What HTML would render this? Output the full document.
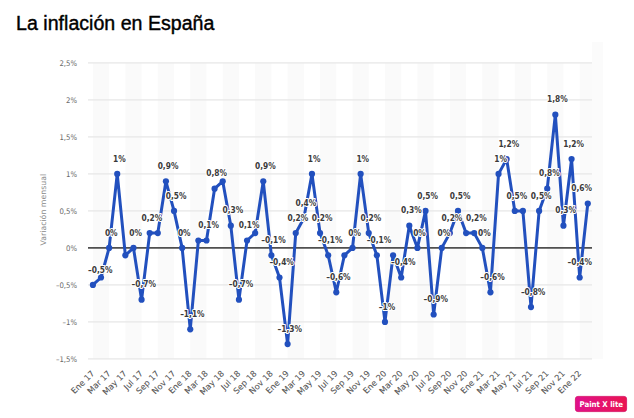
<!DOCTYPE html><html><head><meta charset="utf-8"><style>
html,body{margin:0;padding:0;background:#fff;width:634px;height:418px;overflow:hidden}
svg{display:block}
.t{font-family:"Liberation Sans",Arial,sans-serif}
.yl{font-family:"DejaVu Sans Condensed","DejaVu Sans",sans-serif;font-size:7.7px;fill:#6a6a6a}
.xl{font-family:"DejaVu Sans",sans-serif;font-size:8.3px;fill:#555;stroke:#555;stroke-width:0.08px}
.dl{font-family:"DejaVu Sans Condensed","DejaVu Sans",sans-serif;font-size:8.3px;font-weight:bold;fill:#3a3a3a;stroke:#fff;stroke-width:2px;stroke-linejoin:round;paint-order:stroke}
</style></head><body>
<svg width="634" height="418" viewBox="0 0 634 418">
<rect width="634" height="418" fill="#fff"/>
<text class="t" x="16.1" y="29.6" font-size="19.6" fill="#000" stroke="#000" stroke-width="0.4">La inflación en España</text>
<rect x="92.90" y="62.9" width="16.23" height="296" fill="#fafafa"/>
<rect x="125.35" y="62.9" width="16.23" height="296" fill="#fafafa"/>
<rect x="157.80" y="62.9" width="16.23" height="296" fill="#fafafa"/>
<rect x="190.26" y="62.9" width="16.23" height="296" fill="#fafafa"/>
<rect x="222.71" y="62.9" width="16.23" height="296" fill="#fafafa"/>
<rect x="255.16" y="62.9" width="16.23" height="296" fill="#fafafa"/>
<rect x="287.61" y="62.9" width="16.23" height="296" fill="#fafafa"/>
<rect x="320.06" y="62.9" width="16.23" height="296" fill="#fafafa"/>
<rect x="352.52" y="62.9" width="16.23" height="296" fill="#fafafa"/>
<rect x="384.97" y="62.9" width="16.23" height="296" fill="#fafafa"/>
<rect x="417.42" y="62.9" width="16.23" height="296" fill="#fafafa"/>
<rect x="449.87" y="62.9" width="16.23" height="296" fill="#fafafa"/>
<rect x="482.32" y="62.9" width="16.23" height="296" fill="#fafafa"/>
<rect x="514.78" y="62.9" width="16.23" height="296" fill="#fafafa"/>
<rect x="547.23" y="62.9" width="16.23" height="296" fill="#fafafa"/>
<rect x="579.68" y="62.9" width="12.32" height="296" fill="#fafafa"/>
<rect x="592" y="42" width="11" height="317" fill="#fbfbfb"/>
<rect x="88.0" y="62.30" width="504.0" height="1.2" fill="#e6e6e6"/>
<rect x="88.0" y="99.30" width="504.0" height="1.2" fill="#e6e6e6"/>
<rect x="88.0" y="136.30" width="504.0" height="1.2" fill="#e6e6e6"/>
<rect x="88.0" y="173.30" width="504.0" height="1.2" fill="#e6e6e6"/>
<rect x="88.0" y="210.30" width="504.0" height="1.2" fill="#e6e6e6"/>
<rect x="88.0" y="284.30" width="504.0" height="1.2" fill="#e6e6e6"/>
<rect x="88.0" y="321.30" width="504.0" height="1.2" fill="#e6e6e6"/>
<rect x="88.0" y="358.30" width="504.0" height="1.2" fill="#e6e6e6"/>
<rect x="88.0" y="247.15" width="504.0" height="1.5" fill="#333"/>
<text class="yl" x="77" y="66.20" text-anchor="end">2,5%</text>
<text class="yl" x="77" y="103.20" text-anchor="end">2%</text>
<text class="yl" x="77" y="140.20" text-anchor="end">1,5%</text>
<text class="yl" x="77" y="177.20" text-anchor="end">1%</text>
<text class="yl" x="77" y="214.20" text-anchor="end">0,5%</text>
<text class="yl" x="77" y="251.20" text-anchor="end">0%</text>
<text class="yl" x="77" y="288.20" text-anchor="end">–0,5%</text>
<text class="yl" x="77" y="325.20" text-anchor="end">–1%</text>
<text class="yl" x="77" y="362.20" text-anchor="end">–1,5%</text>
<text transform="translate(45.9,209.7) rotate(-90)" text-anchor="middle" font-family="DejaVu Sans,sans-serif" font-size="7.8" fill="#8a8a8a">Variación mensual</text>
<text class="xl" transform="translate(94.90,374.00) rotate(-45)" text-anchor="end">Ene 17</text>
<text class="xl" transform="translate(111.13,374.00) rotate(-45)" text-anchor="end">Mar 17</text>
<text class="xl" transform="translate(127.35,374.00) rotate(-45)" text-anchor="end">May 17</text>
<text class="xl" transform="translate(143.58,374.00) rotate(-45)" text-anchor="end">Jul 17</text>
<text class="xl" transform="translate(159.80,374.00) rotate(-45)" text-anchor="end">Sep 17</text>
<text class="xl" transform="translate(176.03,374.00) rotate(-45)" text-anchor="end">Nov 17</text>
<text class="xl" transform="translate(192.26,374.00) rotate(-45)" text-anchor="end">Ene 18</text>
<text class="xl" transform="translate(208.48,374.00) rotate(-45)" text-anchor="end">Mar 18</text>
<text class="xl" transform="translate(224.71,374.00) rotate(-45)" text-anchor="end">May 18</text>
<text class="xl" transform="translate(240.93,374.00) rotate(-45)" text-anchor="end">Jul 18</text>
<text class="xl" transform="translate(257.16,374.00) rotate(-45)" text-anchor="end">Sep 18</text>
<text class="xl" transform="translate(273.39,374.00) rotate(-45)" text-anchor="end">Nov 18</text>
<text class="xl" transform="translate(289.61,374.00) rotate(-45)" text-anchor="end">Ene 19</text>
<text class="xl" transform="translate(305.84,374.00) rotate(-45)" text-anchor="end">Mar 19</text>
<text class="xl" transform="translate(322.06,374.00) rotate(-45)" text-anchor="end">May 19</text>
<text class="xl" transform="translate(338.29,374.00) rotate(-45)" text-anchor="end">Jul 19</text>
<text class="xl" transform="translate(354.52,374.00) rotate(-45)" text-anchor="end">Sep 19</text>
<text class="xl" transform="translate(370.74,374.00) rotate(-45)" text-anchor="end">Nov 19</text>
<text class="xl" transform="translate(386.97,374.00) rotate(-45)" text-anchor="end">Ene 20</text>
<text class="xl" transform="translate(403.19,374.00) rotate(-45)" text-anchor="end">Mar 20</text>
<text class="xl" transform="translate(419.42,374.00) rotate(-45)" text-anchor="end">May 20</text>
<text class="xl" transform="translate(435.65,374.00) rotate(-45)" text-anchor="end">Jul 20</text>
<text class="xl" transform="translate(451.87,374.00) rotate(-45)" text-anchor="end">Sep 20</text>
<text class="xl" transform="translate(468.10,374.00) rotate(-45)" text-anchor="end">Nov 20</text>
<text class="xl" transform="translate(484.32,374.00) rotate(-45)" text-anchor="end">Ene 21</text>
<text class="xl" transform="translate(500.55,374.00) rotate(-45)" text-anchor="end">Mar 21</text>
<text class="xl" transform="translate(516.78,374.00) rotate(-45)" text-anchor="end">May 21</text>
<text class="xl" transform="translate(533.00,374.00) rotate(-45)" text-anchor="end">Jul 21</text>
<text class="xl" transform="translate(549.23,374.00) rotate(-45)" text-anchor="end">Sep 21</text>
<text class="xl" transform="translate(565.45,374.00) rotate(-45)" text-anchor="end">Nov 21</text>
<text class="xl" transform="translate(581.68,374.00) rotate(-45)" text-anchor="end">Ene 22</text>
<polyline points="92.90,284.90 101.01,277.50 109.13,247.90 117.24,173.90 125.35,255.30 133.47,247.90 141.58,299.70 149.69,233.10 157.80,233.10 165.92,181.30 174.03,210.90 182.14,247.90 190.26,329.30 198.37,240.50 206.48,240.50 214.59,188.70 222.71,181.30 230.82,225.70 238.93,299.70 247.05,240.50 255.16,233.10 263.27,181.30 271.39,255.30 279.50,277.50 287.61,344.10 295.73,233.10 303.84,218.30 311.95,173.90 320.06,233.10 328.18,255.30 336.29,292.30 344.40,255.30 352.52,247.90 360.63,173.90 368.74,233.10 376.86,255.30 384.97,321.90 393.08,255.30 401.19,277.50 409.31,225.70 417.42,247.90 425.53,210.90 433.65,314.50 441.76,247.90 449.87,233.10 457.99,210.90 466.10,233.10 474.21,233.10 482.32,247.90 490.44,292.30 498.55,173.90 506.66,159.10 514.78,210.90 522.89,210.90 531.00,307.10 539.12,210.90 547.23,188.70 555.34,114.70 563.45,225.70 571.57,159.10 579.68,277.50 587.79,203.50" fill="none" stroke="#2250be" stroke-width="3" stroke-linejoin="round" stroke-linecap="round"/>
<circle cx="92.90" cy="284.90" r="3.1" fill="#2250be"/>
<circle cx="101.01" cy="277.50" r="3.1" fill="#2250be"/>
<circle cx="109.13" cy="247.90" r="3.1" fill="#2250be"/>
<circle cx="117.24" cy="173.90" r="3.1" fill="#2250be"/>
<circle cx="125.35" cy="255.30" r="3.1" fill="#2250be"/>
<circle cx="133.47" cy="247.90" r="3.1" fill="#2250be"/>
<circle cx="141.58" cy="299.70" r="3.1" fill="#2250be"/>
<circle cx="149.69" cy="233.10" r="3.1" fill="#2250be"/>
<circle cx="157.80" cy="233.10" r="3.1" fill="#2250be"/>
<circle cx="165.92" cy="181.30" r="3.1" fill="#2250be"/>
<circle cx="174.03" cy="210.90" r="3.1" fill="#2250be"/>
<circle cx="182.14" cy="247.90" r="3.1" fill="#2250be"/>
<circle cx="190.26" cy="329.30" r="3.1" fill="#2250be"/>
<circle cx="198.37" cy="240.50" r="3.1" fill="#2250be"/>
<circle cx="206.48" cy="240.50" r="3.1" fill="#2250be"/>
<circle cx="214.59" cy="188.70" r="3.1" fill="#2250be"/>
<circle cx="222.71" cy="181.30" r="3.1" fill="#2250be"/>
<circle cx="230.82" cy="225.70" r="3.1" fill="#2250be"/>
<circle cx="238.93" cy="299.70" r="3.1" fill="#2250be"/>
<circle cx="247.05" cy="240.50" r="3.1" fill="#2250be"/>
<circle cx="255.16" cy="233.10" r="3.1" fill="#2250be"/>
<circle cx="263.27" cy="181.30" r="3.1" fill="#2250be"/>
<circle cx="271.39" cy="255.30" r="3.1" fill="#2250be"/>
<circle cx="279.50" cy="277.50" r="3.1" fill="#2250be"/>
<circle cx="287.61" cy="344.10" r="3.1" fill="#2250be"/>
<circle cx="295.73" cy="233.10" r="3.1" fill="#2250be"/>
<circle cx="303.84" cy="218.30" r="3.1" fill="#2250be"/>
<circle cx="311.95" cy="173.90" r="3.1" fill="#2250be"/>
<circle cx="320.06" cy="233.10" r="3.1" fill="#2250be"/>
<circle cx="328.18" cy="255.30" r="3.1" fill="#2250be"/>
<circle cx="336.29" cy="292.30" r="3.1" fill="#2250be"/>
<circle cx="344.40" cy="255.30" r="3.1" fill="#2250be"/>
<circle cx="352.52" cy="247.90" r="3.1" fill="#2250be"/>
<circle cx="360.63" cy="173.90" r="3.1" fill="#2250be"/>
<circle cx="368.74" cy="233.10" r="3.1" fill="#2250be"/>
<circle cx="376.86" cy="255.30" r="3.1" fill="#2250be"/>
<circle cx="384.97" cy="321.90" r="3.1" fill="#2250be"/>
<circle cx="393.08" cy="255.30" r="3.1" fill="#2250be"/>
<circle cx="401.19" cy="277.50" r="3.1" fill="#2250be"/>
<circle cx="409.31" cy="225.70" r="3.1" fill="#2250be"/>
<circle cx="417.42" cy="247.90" r="3.1" fill="#2250be"/>
<circle cx="425.53" cy="210.90" r="3.1" fill="#2250be"/>
<circle cx="433.65" cy="314.50" r="3.1" fill="#2250be"/>
<circle cx="441.76" cy="247.90" r="3.1" fill="#2250be"/>
<circle cx="449.87" cy="233.10" r="3.1" fill="#2250be"/>
<circle cx="457.99" cy="210.90" r="3.1" fill="#2250be"/>
<circle cx="466.10" cy="233.10" r="3.1" fill="#2250be"/>
<circle cx="474.21" cy="233.10" r="3.1" fill="#2250be"/>
<circle cx="482.32" cy="247.90" r="3.1" fill="#2250be"/>
<circle cx="490.44" cy="292.30" r="3.1" fill="#2250be"/>
<circle cx="498.55" cy="173.90" r="3.1" fill="#2250be"/>
<circle cx="506.66" cy="159.10" r="3.1" fill="#2250be"/>
<circle cx="514.78" cy="210.90" r="3.1" fill="#2250be"/>
<circle cx="522.89" cy="210.90" r="3.1" fill="#2250be"/>
<circle cx="531.00" cy="307.10" r="3.1" fill="#2250be"/>
<circle cx="539.12" cy="210.90" r="3.1" fill="#2250be"/>
<circle cx="547.23" cy="188.70" r="3.1" fill="#2250be"/>
<circle cx="555.34" cy="114.70" r="3.1" fill="#2250be"/>
<circle cx="563.45" cy="225.70" r="3.1" fill="#2250be"/>
<circle cx="571.57" cy="159.10" r="3.1" fill="#2250be"/>
<circle cx="579.68" cy="277.50" r="3.1" fill="#2250be"/>
<circle cx="587.79" cy="203.50" r="3.1" fill="#2250be"/>
<text class="dl" x="88.00" y="272.50" text-anchor="start">–0,5%</text>
<text class="dl" x="111.23" y="235.50" text-anchor="middle">0%</text>
<text class="dl" x="119.34" y="161.50" text-anchor="middle">1%</text>
<text class="dl" x="135.56" y="235.50" text-anchor="middle">0%</text>
<text class="dl" x="143.68" y="287.30" text-anchor="middle">–0,7%</text>
<text class="dl" x="151.79" y="220.70" text-anchor="middle">0,2%</text>
<text class="dl" x="168.02" y="168.90" text-anchor="middle">0,9%</text>
<text class="dl" x="176.13" y="198.50" text-anchor="middle">0,5%</text>
<text class="dl" x="184.24" y="235.50" text-anchor="middle">0%</text>
<text class="dl" x="192.36" y="316.90" text-anchor="middle">–1,1%</text>
<text class="dl" x="208.58" y="228.10" text-anchor="middle">0,1%</text>
<text class="dl" x="216.69" y="176.30" text-anchor="middle">0,8%</text>
<text class="dl" x="232.92" y="213.30" text-anchor="middle">0,3%</text>
<text class="dl" x="241.03" y="287.30" text-anchor="middle">–0,7%</text>
<text class="dl" x="249.15" y="228.10" text-anchor="middle">0,1%</text>
<text class="dl" x="265.37" y="168.90" text-anchor="middle">0,9%</text>
<text class="dl" x="273.49" y="242.90" text-anchor="middle">–0,1%</text>
<text class="dl" x="281.60" y="265.10" text-anchor="middle">–0,4%</text>
<text class="dl" x="289.71" y="331.70" text-anchor="middle">–1,3%</text>
<text class="dl" x="297.83" y="220.70" text-anchor="middle">0,2%</text>
<text class="dl" x="305.94" y="205.90" text-anchor="middle">0,4%</text>
<text class="dl" x="314.05" y="161.50" text-anchor="middle">1%</text>
<text class="dl" x="322.16" y="220.70" text-anchor="middle">0,2%</text>
<text class="dl" x="330.28" y="242.90" text-anchor="middle">–0,1%</text>
<text class="dl" x="338.39" y="279.90" text-anchor="middle">–0,6%</text>
<text class="dl" x="354.62" y="235.50" text-anchor="middle">0%</text>
<text class="dl" x="362.73" y="161.50" text-anchor="middle">1%</text>
<text class="dl" x="370.84" y="220.70" text-anchor="middle">0,2%</text>
<text class="dl" x="378.96" y="242.90" text-anchor="middle">–0,1%</text>
<text class="dl" x="387.07" y="309.50" text-anchor="middle">–1%</text>
<text class="dl" x="403.29" y="265.10" text-anchor="middle">–0,4%</text>
<text class="dl" x="411.41" y="213.30" text-anchor="middle">0,3%</text>
<text class="dl" x="419.52" y="235.50" text-anchor="middle">0%</text>
<text class="dl" x="427.63" y="198.50" text-anchor="middle">0,5%</text>
<text class="dl" x="435.75" y="302.10" text-anchor="middle">–0,9%</text>
<text class="dl" x="443.86" y="235.50" text-anchor="middle">0%</text>
<text class="dl" x="451.97" y="220.70" text-anchor="middle">0,2%</text>
<text class="dl" x="460.09" y="198.50" text-anchor="middle">0,5%</text>
<text class="dl" x="476.31" y="220.70" text-anchor="middle">0,2%</text>
<text class="dl" x="484.42" y="235.50" text-anchor="middle">0%</text>
<text class="dl" x="492.54" y="279.90" text-anchor="middle">–0,6%</text>
<text class="dl" x="500.65" y="161.50" text-anchor="middle">1%</text>
<text class="dl" x="508.76" y="146.70" text-anchor="middle">1,2%</text>
<text class="dl" x="516.88" y="198.50" text-anchor="middle">0,5%</text>
<text class="dl" x="533.10" y="294.70" text-anchor="middle">–0,8%</text>
<text class="dl" x="541.22" y="198.50" text-anchor="middle">0,5%</text>
<text class="dl" x="549.33" y="176.30" text-anchor="middle">0,8%</text>
<text class="dl" x="557.44" y="102.30" text-anchor="middle">1,8%</text>
<text class="dl" x="565.55" y="213.30" text-anchor="middle">0,3%</text>
<text class="dl" x="573.67" y="146.70" text-anchor="middle">1,2%</text>
<text class="dl" x="592.00" y="265.10" text-anchor="end">–0,4%</text>
<text class="dl" x="592.00" y="191.10" text-anchor="end">0,6%</text>
<defs><linearGradient id="bg" x1="0" x2="1" y1="0" y2="0"><stop offset="0" stop-color="#e0108c"/><stop offset="1" stop-color="#ea1450"/></linearGradient></defs>
<rect x="575.4" y="396.4" width="51.2" height="15.2" rx="2.5" fill="url(#bg)" stroke="#d40f64" stroke-width="0.8"/>
<text x="601.3" y="406.8" text-anchor="middle" font-family="DejaVu Sans Condensed,DejaVu Sans,sans-serif" font-weight="bold" font-size="7.8" fill="#fff">Paint X lite</text>
</svg></body></html>
